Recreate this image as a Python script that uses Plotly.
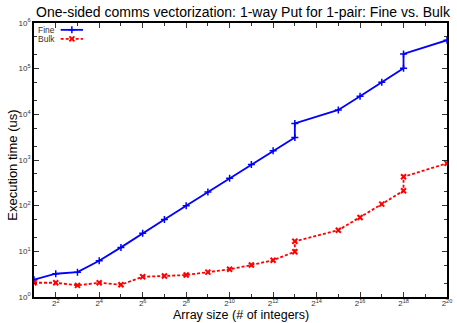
import plotly.graph_objects as go

# Data (array sizes as powers of two, execution times in us)
fine_exp = [1, 2, 3, 4, 5, 6, 7, 8, 9, 10, 11, 12, 13, 13, 15, 16, 17, 18, 18, 20]
fine_us = [2.4, 3.23, 3.5, 6.2, 12.2, 25, 50, 100, 200, 400, 800, 1600, 3100, 6300,
           12500, 25000, 50500, 102000, 210000, 420000]
bulk_exp = [1, 2, 3, 4, 5, 6, 7, 8, 9, 10, 11, 12, 13, 13, 15, 16, 17, 18, 18, 20]
bulk_us = [2.05, 2.05, 1.8, 2.05, 1.86, 2.78, 2.88, 3.03, 3.5, 4.04, 5.0, 6.4, 9.8, 16.6,
           29, 55, 108, 213, 428, 846]

x_major_exp = [2, 4, 6, 8, 10, 12, 14, 16, 18, 20]
x_minor_exp = [1, 3, 5, 7, 9, 11, 13, 15, 17, 19]
y_major_exp = [0, 1, 2, 3, 4, 5, 6]

BLUE = "#0000ff"
RED = "#ff0000"
FONT = "Liberation Sans, Arial, Helvetica, sans-serif"

fine_x = [2 ** e for e in fine_exp]
bulk_x = [2 ** e for e in bulk_exp]

fig = go.Figure()
fig.add_trace(go.Scatter(
    x=fine_x, y=fine_us, mode="lines+markers", name="Fine",
    line=dict(color=BLUE, width=1.8),
    marker=dict(symbol="cross-thin", size=5, line=dict(color=BLUE, width=1.5)),
))
fig.add_trace(go.Scatter(
    x=bulk_x, y=bulk_us, mode="lines+markers", name="Bulk",
    line=dict(color=RED, width=1.8, dash="3px,2px"),
    marker=dict(symbol="x-thin", size=5, line=dict(color=RED, width=2)),
))

# Legend samples (gnuplot style: text then sample) on an overlay axis
leg_y = [0.975, 0.942]
for name, col, dash, sym, yy in [("Fine", BLUE, "solid", "cross-thin", leg_y[0]),
                                 ("Bulk", RED, "3px,2px", "x-thin", leg_y[1])]:
    fig.add_trace(go.Scatter(
        x=[0.0646, 0.1187], y=[yy, yy], mode="lines", xaxis="x2", yaxis="y2",
        line=dict(color=col, width=1.8, dash=dash), showlegend=False, hoverinfo="skip"))
    fig.add_trace(go.Scatter(
        x=[0.0917], y=[yy], mode="markers", xaxis="x2", yaxis="y2",
        marker=dict(symbol=sym, size=5, line=dict(color=col, width=2 if sym == "x-thin" else 1.5)),
        showlegend=False, hoverinfo="skip"))
    fig.add_annotation(x=0.0557, y=yy, xref="paper", yref="paper", text=name,
                       showarrow=False, xanchor="right", yanchor="middle",
                       font=dict(size=8.5, color="#333333", family=FONT))

tick_font = dict(size=8, color="#333333", family=FONT)

fig.update_layout(
    width=457, height=323,
    margin=dict(l=34, r=5, t=23, b=26),
    paper_bgcolor="white", plot_bgcolor="white",
    showlegend=False,
    font=dict(family=FONT),
    title=dict(text="One-sided comms vectorization: 1-way Put for 1-pair: Fine vs. Bulk",
               x=243 / 457, xanchor="center", y=1 - 12 / 323, yanchor="middle",
               font=dict(size=14, color="black", family=FONT)),
    xaxis=dict(
        type="log", range=[1 * 0.30103, 20 * 0.30103],
        tickvals=[2 ** e for e in x_major_exp],
        ticktext=[f"2<sup>{e}</sup>" for e in x_major_exp],
        ticks="inside", ticklen=5, tickwidth=1, tickcolor="#333333",
        minor=dict(tickvals=[2 ** e for e in x_minor_exp], ticks="inside",
                   ticklen=3, tickwidth=1, tickcolor="#333333", showgrid=False),
        showline=True, linecolor="black", linewidth=1.5, mirror="allticks",
        showgrid=False, zeroline=False, tickfont=tick_font, ticklabelstandoff=-2,
    ),
    yaxis=dict(
        type="log", range=[0, 6],
        tickvals=[10 ** e for e in y_major_exp],
        ticktext=[f"10<sup>{e}</sup>" for e in y_major_exp],
        ticks="inside", ticklen=5, tickwidth=1, tickcolor="#333333",
        minor=dict(tickvals=[m * 10 ** e for e in range(0, 6) for m in (2, 5)],
                   ticks="inside", ticklen=3, tickwidth=1, tickcolor="#333333",
                   showgrid=False),
        showline=True, linecolor="black", linewidth=1.5, mirror="allticks",
        showgrid=False, zeroline=False, tickfont=tick_font,
    ),
    xaxis2=dict(overlaying="x", range=[0, 1], visible=False, fixedrange=True),
    yaxis2=dict(overlaying="y", range=[0, 1], visible=False, fixedrange=True),
)

fig.add_annotation(x=0.5, y=-26 / 274.3, xref="paper", yref="paper",
                   text="Array size (# of integers)", showarrow=False,
                   xanchor="center", yanchor="bottom", borderpad=0,
                   font=dict(size=12.5, color="black", family=FONT))
fig.add_annotation(x=-22 / 418, y=0.48, xref="paper", yref="paper",
                   text="Execution time (us)", showarrow=False, textangle=-90,
                   xanchor="center", yanchor="middle",
                   font=dict(size=13, color="black", family=FONT))

fig.write_html("out.html", config={"displayModeBar": False},
               post_script="document.body.style.margin='0px';")
